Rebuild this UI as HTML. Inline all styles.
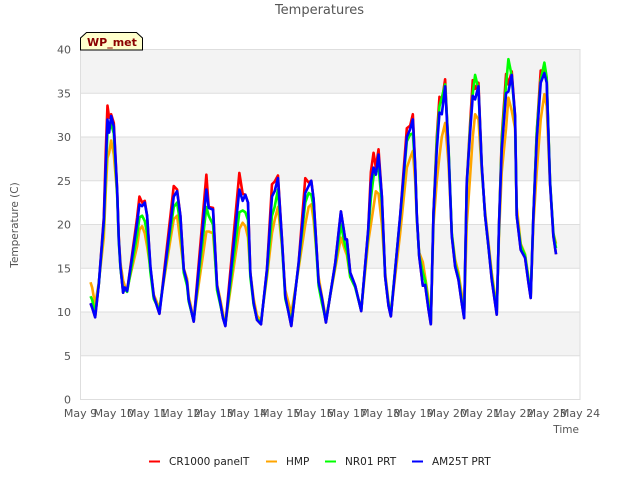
<!DOCTYPE html>
<html>
<head>
<meta charset="utf-8">
<title>Temperatures</title>
<style>
html,body{margin:0;padding:0;background:#fff;}
svg{display:block;font-family:"DejaVu Sans","Liberation Sans",sans-serif;}
</style>
</head>
<body>
<svg id="chart" width="640" height="480" viewBox="0 0 640 480" xmlns="http://www.w3.org/2000/svg">
  <text x="319.5" y="14" text-anchor="middle" font-size="13" fill="#555">Temperatures</text>
  <g id="plot"></g>
  <g id="ticks"></g>
  <text transform="translate(18,225) rotate(-90)" text-anchor="middle" font-size="10.5" fill="#555">Temperature (C)</text>
  <text x="579" y="433" text-anchor="end" font-size="10.5" fill="#555">Time</text>
  <g>
    <polygon points="80.5,50 80.5,38 86.5,32.5 136.5,32.5 142.5,38 142.5,50" fill="#ffffcc" stroke="#000" stroke-width="1"></polygon>
    <text x="87" y="46" font-size="11" font-weight="bold" fill="#8b0000">WP_met</text>
  </g>
  <g>
    <g>
      <line x1="149" x2="160" y1="461.5" y2="461.5" stroke="#ff0000" stroke-width="2"></line>
      <text x="169" y="465" font-size="10.5" fill="#222">CR1000 panelT</text>
    </g>
    <g>
      <line x1="266" x2="277" y1="461.5" y2="461.5" stroke="#ffa500" stroke-width="2"></line>
      <text x="286" y="465" font-size="10.5" fill="#222">HMP</text>
    </g>
    <g>
      <line x1="325" x2="336" y1="461.5" y2="461.5" stroke="#00ff00" stroke-width="2"></line>
      <text x="345" y="465" font-size="10.5" fill="#222">NR01 PRT</text>
    </g>
    <g>
      <line x1="412" x2="423" y1="461.5" y2="461.5" stroke="#0000ff" stroke-width="2"></line>
      <text x="432" y="465" font-size="10.5" fill="#222">AM25T PRT</text>
    </g>
  </g>
</svg>
<script>
const xTickLabels = ["May 9","May 10","May 11","May 12","May 13","May 14","May 15","May 16","May 17","May 18","May 19","May 20","May 21","May 22","May 23","May 24"];
const yTickLabels = [0,5,10,15,20,25,30,35,40];
const timeDays = [
0.30,0.35,0.44,0.55,0.70,0.76,0.81,0.86,0.92,1.00,1.10,1.15,1.20,1.28,1.33,1.40,
1.70,1.77,1.85,1.93,2.00,2.10,2.20,2.37,
2.80,2.90,3.00,3.10,3.20,3.25,3.40,
3.78,3.85,3.98,4.10,4.20,4.28,4.35,
4.77,4.87,4.95,5.03,5.10,5.20,5.30,5.42,
5.60,5.75,5.83,5.93,6.05,6.15,6.33,
6.55,6.75,6.85,6.93,7.00,7.15,7.25,7.37,
7.65,7.82,7.95,8.00,8.10,8.25,8.43,
8.64,8.72,8.80,8.87,8.95,9.05,9.15,9.25,9.32,
9.60,9.80,9.90,9.98,10.05,10.10,10.17,10.28,10.35,10.45,10.52,
10.60,10.70,10.78,10.85,10.95,11.05,11.15,11.25,11.35,11.45,11.52,
11.60,11.70,11.78,11.85,11.95,12.05,12.15,12.25,12.35,12.50,
12.57,12.65,12.78,12.85,12.95,13.05,13.10,13.22,13.35,13.45,13.52,
13.60,13.70,13.82,13.93,14.00,14.10,14.20,14.28];
const am25tValues = [
11,10.5,9.4,13.2,20.5,27,32,30.5,32.4,31.2,24,18.3,15.2,12.2,12.8,12.4,
20.2,22.3,22.1,22.5,21,15.2,11.8,9.8,
23.2,23.8,21,14.9,13.4,11.4,8.9,
24,21.9,21.7,13,11,9.3,8.4,
24,22.7,23.4,22.5,14.5,11,9.1,8.6,
14.9,23.2,23.8,25.3,18.3,11.8,8.4,
15.6,23.6,24.4,25,22.9,13.4,11.6,8.8,
15.6,21.5,18.3,18.3,14.5,13,10.1,
19.4,24.8,26.5,25.7,28,23.2,14,10.7,9.5,
21,30,30.9,32,26.7,21,16.4,13,13.1,10.3,8.6,
21.3,28.6,32.8,32.6,35.8,28.6,18.7,15.2,13.7,11,9.3,
24.8,30.5,34.7,34.3,35.8,26.7,21,17.5,13.7,9.7,
20.2,28.6,35,35.2,37.1,32.4,21,17.1,16.2,13.4,11.6,
21,29.7,36.2,37.3,36.2,24.8,18.7,16.6];
const cr1000Values = [
11,10.5,9.4,13.2,20.8,28.5,33.6,32.2,32.6,31.6,24,18.5,15.2,12.2,12.8,12.4,
20.8,23.2,22.5,22.7,21,15,11.8,9.8,
24.4,24,21,14.9,13.4,11.4,8.9,
25.7,22,21.9,13,11,9.3,8.4,
25.9,23.5,23.4,22.5,14.5,11,9.1,8.6,
14.9,24.6,24.9,25.6,18.3,11.8,8.4,
15.6,25.3,24.8,25,22.9,13.4,11.6,8.8,
15.6,21.5,18.3,18.3,14.5,13,10.1,
19.4,26,28.2,26.5,28.6,23.2,14,10.7,9.5,
21,31,31.3,32.6,26.7,21,16.4,13,13.1,10.3,8.6,
21.3,30,34.6,34,36.6,28.6,18.7,15.2,13.7,11,9.3,
24.8,31.5,36.5,35.5,36.2,26.7,21,17.5,13.7,9.7,
20.2,30,37.2,36,37.5,32.4,21,17.1,16.2,13.4,11.6,
21,30.5,37.6,37.6,36.5,24.8,18.7,16.6];
const hmpValues = [
13.4,12.8,10.8,13.4,18.5,24,27.6,28.2,29.6,28,23.5,18.5,15.6,13.6,13,12.6,
17.5,19.4,19.8,19,17.5,15,12,10.4,
20.6,21,18,15,13.8,11.8,9.2,
19.2,19.2,19,13.2,11.4,9.8,8.6,
19.5,20.2,19.8,18.5,14.5,11.5,9.6,9,
14,19,20.5,22,17.5,12.5,9.8,
15,20,22,22.3,20.5,14,11.8,9.2,
15,18.5,17,16.5,14,13,10.2,
18,20,22,23.8,23.5,20,14.5,11.2,9.8,
19,26.5,27.6,28.4,25,20.5,16.8,15.7,14,11.5,8.8,
20,25,27.8,30,31.6,27,19,16,14.5,12,9.6,
20,25.5,30,32.6,32,26,21.5,18,14.5,10.5,
19,26,31,34.5,33,31,22,17.8,16.6,14,12,
20,26,32,34.9,33.5,24.5,19,17.8];
const nr01Values = [
11.8,11.4,9.8,13.2,20,26,30.5,30.8,31.5,30.4,23.5,18,15,12.4,12.6,12.3,
18.8,20.8,21,20.4,19,14.5,11.5,10.2,
22,22.5,20,14.5,13,11.2,9,
22,21,20,12.5,10.8,9.4,8.6,
21.4,21.6,21.4,20.5,14,10.8,9.2,8.8,
14.5,21,22,24,17.8,11.5,8.8,
15.4,22.5,23.6,23.4,22,13,11,9,
15.4,20,17.5,17,14,12.8,10.2,
19,23,25.5,26,26.5,22.5,14,10.9,9.8,
20.8,29.5,30.3,30.4,26.5,20.8,16.5,14.5,13.6,10.8,9,
21,29.5,33.5,34.5,36,29,19,15.5,14,11.2,9.5,
24.5,31,35,37.1,35.5,26.5,21,17.5,14,10,
20,29.5,36,38.9,37,32,21,17.6,16.5,13.8,12,
21,30.5,36.5,38.5,36.8,25,19,17.3];
const seriesNames = ["cr1000-line","hmp-line","nr01-line","am25t-line"];
const seriesColors = ["#ff0000","#ffa500","#00ff00","#0000ff"];
const seriesValues = [cr1000Values,hmpValues,nr01Values,am25tValues];

const SVGNS = "http://www.w3.org/2000/svg";
const plotLeft = 80.5, plotRight = 580, plotTop = 49.5, plotBottom = 399.5;
function xScale(d){ return plotLeft + (plotRight - plotLeft) * d / (xTickLabels.length - 1); }
function yScale(v){ return plotBottom - (plotBottom - plotTop) * v / 40; }
function make(tag, attrs){
  const el = document.createElementNS(SVGNS, tag);
  for (const k in attrs) el.setAttribute(k, attrs[k]);
  return el;
}
const plot = document.getElementById("plot");
const ticks = document.getElementById("ticks");

for (let i = 0; i < yTickLabels.length - 1; i++) {
  if (i % 2 === 1) {
    const band = make("rect", {x: plotLeft, y: yScale(yTickLabels[i+1]), width: plotRight - plotLeft, height: yScale(yTickLabels[i]) - yScale(yTickLabels[i+1]), fill: "#f3f3f3"});
    
    
    plot.appendChild(band);
  }
}
yTickLabels.forEach(function(v){
  const grid = make("line", {x1: plotLeft, x2: plotRight, y1: yScale(v), y2: yScale(v), stroke: "#dedede", "stroke-width": 1});
  
  
  plot.appendChild(grid);
  const label = make("text", {x: 71, y: yScale(v) + 4, "text-anchor": "end", "font-size": 11, fill: "#555"});
  
  
  label.textContent = v;
  ticks.appendChild(label);
});
const frame = make("rect", {x: plotLeft, y: plotTop, width: plotRight - plotLeft, height: plotBottom - plotTop, fill: "none", stroke: "#dedede", "stroke-width": 1});


plot.appendChild(frame);

xTickLabels.forEach(function(t, i){
  const label = make("text", {x: xScale(i), y: 417, "text-anchor": "middle", "font-size": 11, fill: "#555"});
  
  
  label.textContent = t;
  ticks.appendChild(label);
});

seriesValues.forEach(function(values, s){
  const pts = values.map(function(v, i){ return xScale(timeDays[i]).toFixed(2) + "," + yScale(v).toFixed(2); }).join(" ");
  const line = make("polyline", {points: pts, fill: "none", stroke: seriesColors[s], "stroke-width": 2.6, "stroke-linejoin": "round"});
  
  
  plot.appendChild(line);
});
</script>
</body>
</html>
